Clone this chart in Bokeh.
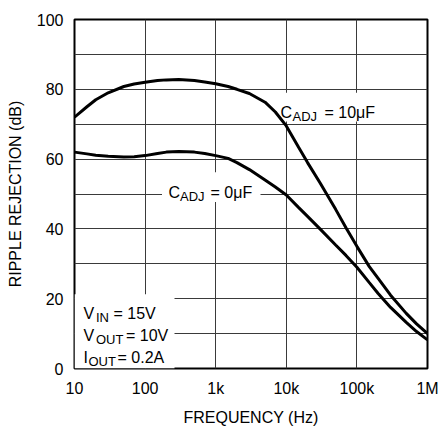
from bokeh.plotting import figure
from bokeh.models import FixedTicker, Label, Range1d
from bokeh.embed import file_html
from bokeh.resources import INLINE

# ---- data ----
freq = [10, 15, 20, 30, 50, 70, 100, 150, 200, 300, 500, 700,
        1e3, 1.5e3, 2e3, 3e3, 5e3, 7e3, 1e4, 1.5e4, 2e4, 3e4, 5e4, 7e4,
        1e5, 1.5e5, 2e5, 3e5, 5e5, 7e5, 1e6]
rr_cadj_10uF = [72.0, 75.0, 77.0, 79.0, 80.8, 81.5, 82.0, 82.5, 82.7, 82.8, 82.5, 82.1,
                81.6, 80.8, 80.0, 78.8, 76.3, 73.5, 69.5, 63.3, 59.0, 53.2, 45.6, 40.3,
                35.0, 29.2, 25.8, 21.0, 15.8, 12.8, 10.0]
rr_cadj_0uF = [62.0, 61.5, 61.1, 60.8, 60.6, 60.7, 61.0, 61.6, 62.0, 62.2, 62.0, 61.6,
               61.0, 60.2, 59.0, 57.0, 54.0, 52.0, 49.7, 46.1, 43.6, 40.0, 35.4, 32.4,
               29.0, 24.6, 21.5, 17.5, 13.2, 10.6, 8.2]
x_ticks = [10, 100, 1000, 10000, 100000, 1000000]
x_tick_labels = ["10", "100", "1k", "10k", "100k", "1M"]
y_ticks = [0, 20, 40, 60, 80, 100]
y_grid_lines = [0, 10, 20, 30, 40, 50, 60, 70, 80, 90, 100]

FONT = "Liberation Sans"

p = figure(width=439, height=428, x_axis_type="log",
           x_range=Range1d(10, 1e6), y_range=Range1d(0, 100),
           output_backend="svg", toolbar_location=None,
           min_border_left=74, min_border_right=12,
           min_border_top=19, min_border_bottom=57)
p.background_fill_color = "white"
p.border_fill_color = "white"
p.outline_line_color = "black"
p.outline_line_width = 2

# axes
for ax in (p.xaxis[0], p.yaxis[0]):
    ax.axis_line_color = None
    ax.major_tick_line_color = None
    ax.minor_tick_line_color = None
    ax.major_tick_out = 0
    ax.major_tick_in = 0
    ax.major_label_text_font = FONT
    ax.major_label_text_font_size = "16px"
    ax.major_label_text_color = "black"
    ax.axis_label_text_font = FONT
    ax.axis_label_text_font_size = "16px"
    ax.axis_label_text_font_style = "normal"
    ax.axis_label_text_color = "black"

p.xaxis.ticker = FixedTicker(ticks=x_ticks)
p.xaxis.major_label_overrides = {t: l for t, l in zip(x_ticks, x_tick_labels)}
p.xaxis.axis_label = "FREQUENCY (Hz)"
p.xaxis.major_label_standoff = 11
p.xaxis.axis_label_standoff = 9

p.yaxis.ticker = FixedTicker(ticks=y_ticks)
p.yaxis.axis_label = "RIPPLE REJECTION (dB)"
p.yaxis.major_label_standoff = 11
p.yaxis.axis_label_standoff = 10

p.xgrid.ticker = FixedTicker(ticks=x_ticks)
p.ygrid.ticker = FixedTicker(ticks=y_grid_lines)
for g in (p.xgrid[0], p.ygrid[0]):
    g.grid_line_color = "#3a3a3a"
    g.grid_line_width = 1
p.xgrid.minor_grid_line_color = None

# helpers to place annotations by pixel position in the frame
FX0, FY0, FW, FH = 74.0, 371.0, 353.0, 352.0
def fx(px):
    return 10 ** (1 + 5 * (px - FX0) / FW)
def fy(py):
    return 100 * (FY0 - py) / FH

# white boxes behind annotations (hide grid)
boxes = [(277, 377, 93, 122), (161.5, 260, 173, 203), (74, 174, 296, 371)]
for x0, x1, y0, y1 in boxes:
    p.quad(left=fx(x0), right=fx(x1), top=fy(y0), bottom=fy(y1),
           fill_color="white", line_color=None)

# curves
p.line(freq, rr_cadj_10uF, line_color="black", line_width=3)
p.line(freq, rr_cadj_0uF, line_color="black", line_width=3)

def add_text(px, py, txt, size):
    p.add_layout(Label(x=fx(px), y=fy(py), text=txt, text_font=FONT,
                       text_font_size=f"{size}px", text_baseline="alphabetic",
                       text_align="left", text_color="black"))

MAIN, SUB = 16, 13
pieces = [
    ("C", 280, 112.7, MAIN), ("ADJ", 292, 116.7, SUB), ("= 10\u03bcF", 324, 112.7, MAIN),
    ("C", 168, 193.3, MAIN), ("ADJ", 179.5, 197.3, SUB), ("= 0\u03bcF", 210, 193.3, MAIN),
    ("V", 83, 315.7, MAIN), ("IN", 95.5, 319.7, SUB), ("= 15V", 113, 315.7, MAIN),
    ("V", 83, 337.7, MAIN), ("OUT", 95.5, 341.7, SUB), ("= 10V", 125.5, 337.7, MAIN),
    ("I", 83, 360, MAIN), ("OUT", 88, 364, SUB), ("= 0.2A", 117, 360, MAIN),
]
for t, x, y, s in pieces:
    add_text(x, y, t, s)

open("out.html", "w").write(file_html(p, INLINE))
